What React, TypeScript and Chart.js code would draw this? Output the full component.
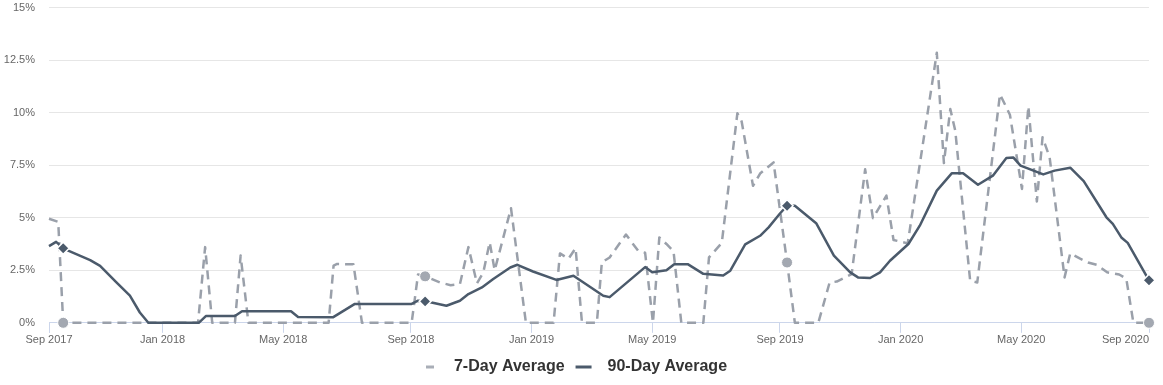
import React, { useEffect, useRef } from 'react';
import { Chart, registerables } from 'chart.js';

Chart.register(...registerables);

const FONT = "'Liberation Sans', Arial, Helvetica, sans-serif";

// Series names (legend order)
const seriesNames = ['7-Day Average', '90-Day Average'];

// x = week index since Sep 2017, y = percent
const sevenDayWeeks = [
  0, 1.3, 2, 21, 22, 23, 26.2, 27, 28.1, 39.4, 40.1, 40.6, 42.9, 44.1, 51.1, 52, 53, 55.1, 56.6, 57.9,
  59.1, 60.3, 61.2, 62.1, 62.8, 65.1, 67.2, 71.1, 72, 73.2, 74.2, 75.1, 77.2, 77.9, 79, 81.3, 83, 84,
  85.1, 86, 87, 88, 89.1, 92.2, 93, 94.8, 97, 97.6, 99.2, 100.2, 102.1, 104, 105.1, 108.4, 110, 111,
  113.1, 115, 116.1, 118, 119, 121, 125.1, 126.1, 127, 127.7, 129.8, 130.8, 134, 135.4, 137.1, 138,
  139.2, 140, 141, 143.1, 143.9, 145.3, 146.4, 147.7, 149.1, 150.8, 151.8, 152.8, 155,
];
const sevenDayValues = [
  4.95, 4.8, 0, 0, 3.6, 0, 0, 3.2, 0, 0, 2.72, 2.8, 2.78, 0, 0, 2.3, 2.21, 1.92, 1.79, 1.84,
  3.6, 1.88, 2.4, 3.83, 2.5, 5.45, 0, 0, 3.3, 3.05, 3.55, 0, 0, 2.87, 3.11, 4.2, 3.43, 3.33,
  0, 4.06, 3.75, 3.4, 0, 0, 3.11, 3.8, 9.97, 9.58, 6.52, 7.1, 7.63, 2.87, 0, 0, 1.92, 1.96,
  2.32, 7.3, 4.98, 6.05, 3.94, 3.78, 12.85, 7.6, 10.17, 9.14, 2.0, 1.92, 10.87, 9.9, 6.37, 10.3,
  5.77, 8.83, 7.87, 2.16, 3.3, 3.05, 2.87, 2.75, 2.4, 2.3, 2.1, 0, 0,
];

const ninetyDayWeeks = [
  0, 1, 2, 2.7, 5.8, 7.2, 9.5, 11.4, 12.8, 14, 21.1, 22.1, 26.2, 27.2, 34.1, 35.1, 40, 43.1, 51.1, 52,
  53, 53.9, 56, 57.9, 59.1, 61, 62.6, 65, 66, 68.2, 71.5, 73.9, 76, 78.1, 79, 84, 85, 87, 88.1, 90,
  92.2, 95, 96, 98.1, 100.2, 101.4, 103, 104, 105.1, 108.1, 110.6, 112.9, 114, 115.7, 117.1, 118.5,
  121.1, 122.7, 125.1, 127.2, 128.8, 130.9, 133, 134.9, 135.9, 136.9, 140.1, 141.7, 143.9, 145.8,
  149, 149.9, 151.1, 152, 155,
];
const ninetyDayValues = [
  3.65, 3.85, 3.55, 3.43, 2.98, 2.71, 1.92, 1.29, 0.49, 0, 0, 0.32, 0.32, 0.55, 0.55, 0.28, 0.26, 0.9, 0.9, 1.05,
  1.02, 0.97, 0.81, 1.05, 1.37, 1.68, 2.08, 2.63, 2.76, 2.44, 2.04, 2.24, 1.76, 1.29, 1.22, 2.65, 2.4, 2.5, 2.79, 2.79,
  2.33, 2.25, 2.48, 3.73, 4.14, 4.54, 5.2, 5.57, 5.57, 4.74, 3.2, 2.4, 2.16, 2.13, 2.4, 2.95,
  3.75, 4.62, 6.29, 7.11, 7.11, 6.57, 7.0, 7.84, 7.86, 7.48, 7.06, 7.24, 7.38, 6.74,
  5.02, 4.71, 4.06, 3.8, 2.02,
];

// weeks where a marker is shown (yearly anniversaries)
const markerWeeks = [2, 53, 104, 155];

// x tick positions (week index) and labels; the leading blank tick lets the first real label stay centred
const xTickWeeks = [0, 0, 16, 33, 51, 68, 85, 103, 120, 137, 155];
const xTickLabels = ['', 'Sep 2017', 'Jan 2018', 'May 2018', 'Sep 2018', 'Jan 2019', 'May 2019', 'Sep 2019', 'Jan 2020', 'May 2020', 'Sep 2020'];

const yTickValues = [0, 2.5, 5, 7.5, 10, 12.5, 15];
const yTickLabels = ['0%', '2.5%', '5%', '7.5%', '10%', '12.5%', '15%'];

const SEVEN_COLOR = '#9aa0aa';
const SEVEN_MARKER = '#a3a8b1';
const NINETY_COLOR = '#4b5a6b';
const legendColors = ['#a9aeb7', NINETY_COLOR];

export default function App() {
  const canvasRef = useRef<HTMLCanvasElement | null>(null);

  useEffect(() => {
    document.body.style.margin = '0';
    const canvas = canvasRef.current;
    if (!canvas) return;

    const isMarker = (ctx: any) => markerWeeks.includes(ctx.raw ? ctx.raw.x : NaN);

    const chart = new Chart(canvas, {
      type: 'line',
      data: {
        datasets: [
          {
            label: seriesNames[0],
            data: sevenDayWeeks.map((w, i) => ({ x: w, y: sevenDayValues[i] })),
            borderColor: SEVEN_COLOR,
            borderWidth: 2.5,
            borderDash: [9, 6],
            borderJoinStyle: 'round',
            tension: 0,
            fill: false,
            clip: false,
            pointStyle: 'circle',
            pointRadius: (ctx: any) => (isMarker(ctx) ? 5.5 : 0),
            pointHoverRadius: (ctx: any) => (isMarker(ctx) ? 5.5 : 0),
            pointBackgroundColor: SEVEN_MARKER,
            pointBorderColor: '#ffffff',
            pointBorderWidth: 1,
            order: 1,
          },
          {
            label: seriesNames[1],
            data: ninetyDayWeeks.map((w, i) => ({ x: w, y: ninetyDayValues[i] })),
            borderColor: NINETY_COLOR,
            borderWidth: 2.5,
            borderJoinStyle: 'round',
            tension: 0,
            fill: false,
            clip: false,
            pointStyle: 'rectRot',
            pointRadius: (ctx: any) => (isMarker(ctx) ? 6 : 0),
            pointHoverRadius: (ctx: any) => (isMarker(ctx) ? 6 : 0),
            pointBackgroundColor: NINETY_COLOR,
            pointBorderColor: '#ffffff',
            pointBorderWidth: 1.5,
            order: 0,
          },
        ],
      },
      options: {
        animation: false,
        responsive: false,
        devicePixelRatio: 1,
        layout: { padding: { left: 0, right: 14, top: 0, bottom: 0 } },
        plugins: {
          tooltip: { enabled: false },
          legend: {
            position: 'bottom',
            labels: {
              usePointStyle: true,
              pointStyleWidth: 24,
              padding: 11,
              color: '#333333',
              font: { family: FONT, size: 16, weight: 'bold' },
              generateLabels: () =>
                seriesNames.map((name, i) => ({
                  text: name,
                  datasetIndex: i,
                  pointStyle: 'line',
                  strokeStyle: legendColors[i],
                  fillStyle: legendColors[i],
                  lineWidth: 3,
                  lineDash: i === 0 ? [8, 16] : [16, 100],
                  lineDashOffset: i === 0 ? -4 : 0,
                  hidden: false,
                  fontColor: '#333333',
                })),
            },
          },
        },
        scales: {
          x: {
            type: 'linear',
            min: 0,
            max: 155,
            afterBuildTicks: (s: any) => {
              s.ticks = xTickWeeks.map((v) => ({ value: v }));
            },
            afterFit: (s: any) => {
              s.paddingLeft = 0;
              s.paddingRight = 0;
            },
            ticks: {
              autoSkip: false,
              maxRotation: 0,
              minRotation: 0,
              align: 'inner',
              padding: 1,
              color: '#666666',
              font: { family: FONT, size: 11 },
              callback: (_v: any, i: number) => xTickLabels[i],
            },
            grid: {
              display: true,
              drawOnChartArea: false,
              drawTicks: true,
              tickLength: 10,
              tickColor: '#ccd6eb',
              tickWidth: 1,
            },
            border: { display: true, color: '#ccd6eb', width: 1 },
          },
          y: {
            type: 'linear',
            min: 0,
            max: 15,
            afterBuildTicks: (s: any) => {
              s.ticks = yTickValues.map((v) => ({ value: v }));
            },
            afterFit: (s: any) => {
              s.width = 49;
              s.paddingTop = 7;
              s.paddingBottom = 0;
            },
            ticks: {
              padding: 14,
              color: '#666666',
              font: { family: FONT, size: 11 },
              callback: (_v: any, i: number) => yTickLabels[i],
            },
            grid: { color: '#e6e6e6', lineWidth: 1, drawTicks: false },
            border: { display: false },
          },
        },
      },
    } as any);

    return () => {
      chart.destroy();
    };
  }, []);

  return (
    <div style={{ width: 1163, height: 385 }}>
      <canvas ref={canvasRef} width={1163} height={385} style={{ display: 'block' }} />
    </div>
  );
}
